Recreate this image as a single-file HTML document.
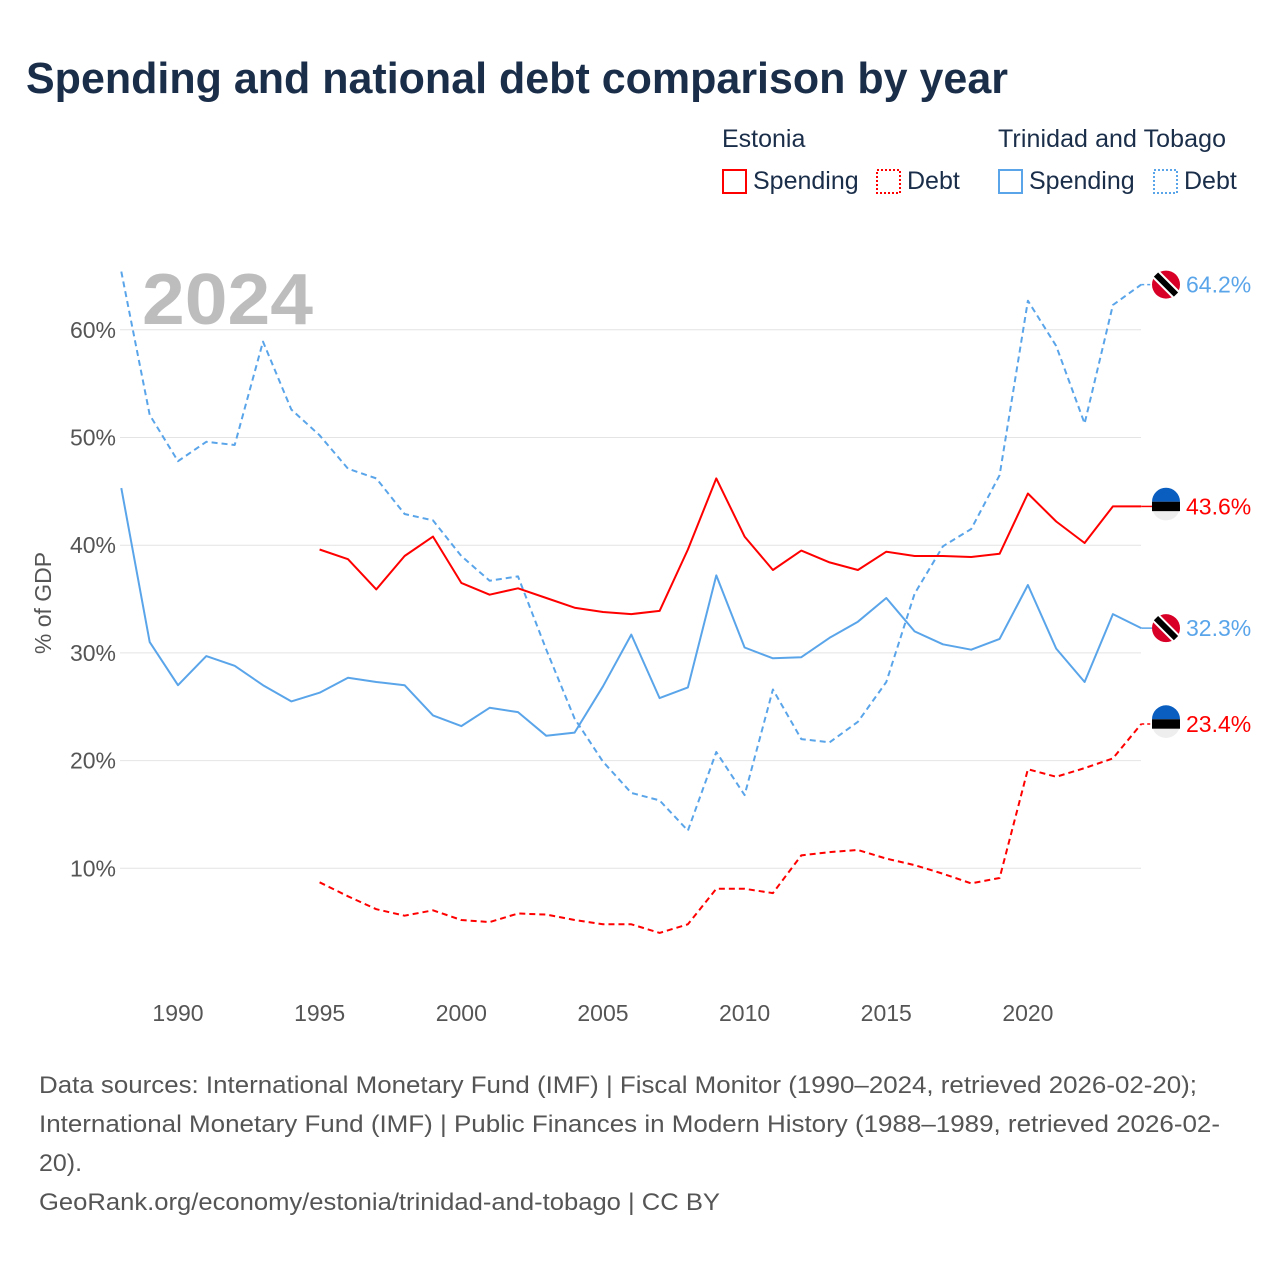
<!DOCTYPE html>
<html><head><meta charset="utf-8">
<style>
body{margin:0;background:#fff;font-family:"Liberation Sans",sans-serif;}
#wrap{position:relative;width:1280px;height:1280px;overflow:hidden;}
</style></head>
<body><div id="wrap">
<svg id="chart" width="1280" height="1280" xmlns="http://www.w3.org/2000/svg">
<text x="26" y="93" font-size="44" font-weight="bold" fill="#1a2e4a" textLength="982" lengthAdjust="spacingAndGlyphs">Spending and national debt comparison by year</text>
<g font-size="25" fill="#1a2e4a">
<text x="722" y="147">Estonia</text>
<text x="998" y="147" textLength="228">Trinidad and Tobago</text>
<rect x="723" y="170" width="23" height="23" fill="none" stroke="#f00" stroke-width="2"/>
<text x="753" y="189">Spending</text>
<rect x="877" y="170" width="23" height="23" fill="none" stroke="#f00" stroke-width="2" stroke-dasharray="2,2"/>
<text x="907" y="189">Debt</text>
<rect x="999" y="170" width="23" height="23" fill="none" stroke="#5aa5ea" stroke-width="2"/>
<text x="1029" y="189">Spending</text>
<rect x="1154" y="170" width="23" height="23" fill="none" stroke="#5aa5ea" stroke-width="2" stroke-dasharray="2,2"/>
<text x="1184" y="189">Debt</text>
</g>
<text x="142" y="324" font-size="72" font-weight="bold" fill="#bdbdbd" textLength="171" lengthAdjust="spacingAndGlyphs">2024</text>
<text transform="translate(51,603) rotate(-90)" text-anchor="middle" font-size="23" fill="#555">% of GDP</text>
<g id="grid"></g><g id="lines"></g><g id="marks"></g>
<g font-size="24" fill="#555">
<text x="39" y="1093" textLength="1158" lengthAdjust="spacingAndGlyphs">Data sources: International Monetary Fund (IMF) | Fiscal Monitor (1990–2024, retrieved 2026-02-20);</text>
<text x="39" y="1132" textLength="1181" lengthAdjust="spacingAndGlyphs">International Monetary Fund (IMF) | Public Finances in Modern History (1988–1989, retrieved 2026-02-</text>
<text x="39" y="1171" textLength="43" lengthAdjust="spacingAndGlyphs">20).</text>
<text x="39" y="1210" textLength="681" lengthAdjust="spacingAndGlyphs">GeoRank.org/economy/estonia/trinidad-and-tobago | CC BY</text>
</g>
</svg>
<script>
const yTicks=[10,20,30,40,50,60];
const xTicks=[1990,1995,2000,2005,2010,2015,2020];
const ttYears=[1988,1989,1990,1991,1992,1993,1994,1995,1996,1997,1998,1999,2000,2001,2002,2003,2004,2005,2006,2007,2008,2009,2010,2011,2012,2013,2014,2015,2016,2017,2018,2019,2020,2021,2022,2023,2024];
const ttDebt=[65.4,52.1,47.8,49.6,49.3,58.9,52.6,50.2,47.1,46.2,42.9,42.3,39,36.7,37.1,30.3,23.9,19.9,17,16.3,13.5,20.8,16.8,26.6,22,21.7,23.6,27.3,35.5,39.9,41.5,46.5,62.7,58.5,51.3,62.3,64.2];
const ttSpending=[45.3,31,27,29.7,28.8,27,25.5,26.3,27.7,27.3,27,24.2,23.2,24.9,24.5,22.3,22.6,26.9,31.7,25.8,26.8,37.2,30.5,29.5,29.6,31.4,32.9,35.1,32,30.8,30.3,31.3,36.3,30.4,27.3,33.6,32.3];
const eeYears=[1995,1996,1997,1998,1999,2000,2001,2002,2003,2004,2005,2006,2007,2008,2009,2010,2011,2012,2013,2014,2015,2016,2017,2018,2019,2020,2021,2022,2023,2024];
const eeSpending=[39.6,38.7,35.9,39,40.8,36.5,35.4,36,35.1,34.2,33.8,33.6,33.9,39.6,46.2,40.8,37.7,39.5,38.4,37.7,39.4,39,39,38.9,39.2,44.8,42.2,40.2,43.6,43.6];
const eeDebt=[8.7,7.4,6.2,5.6,6.1,5.2,5.0,5.8,5.7,5.2,4.8,4.8,4.0,4.8,8.1,8.1,7.7,11.2,11.5,11.7,10.9,10.3,9.5,8.6,9.1,19.2,18.5,19.3,20.2,23.4];

const NS="http://www.w3.org/2000/svg";
const X=y=>178+(y-1990)*28.33;
const Y=v=>976-v*10.77;
function mk(t,a,p){const e=document.createElementNS(NS,t);for(const k in a)e.setAttribute(k,a[k]);p.appendChild(e);return e;}
const grid=document.getElementById('grid');
yTicks.forEach(v=>{
 const l=mk('line',{x1:120,x2:1141,y1:Y(v),y2:Y(v),stroke:'#e4e4e4','stroke-width':1},grid);
 
 
 const t=mk('text',{x:116,y:Y(v)+8,'text-anchor':'end','font-size':23,fill:'#555'},grid);
 t.textContent=v+'%';
 
 
});
xTicks.forEach(v=>{
 const t=mk('text',{x:X(v),y:1021,'text-anchor':'middle','font-size':23,fill:'#555'},grid);
 t.textContent=v;
 
 
});
const lines=document.getElementById('lines');
function series(xs,vs,col,dash,name){
 const d=xs.map((x,i)=>(i?'L':'M')+X(x).toFixed(1)+','+Y(vs[i]).toFixed(1)).join('');
 const p=mk('path',{d:d,fill:'none',stroke:col,'stroke-width':2,'stroke-linejoin':'round'},lines);
 if(dash)p.setAttribute('stroke-dasharray',dash);
 
 
}
series(ttYears,ttDebt,'#5aa5ea','6,4','line-tt-debt');
series(ttYears,ttSpending,'#5aa5ea',null,'line-tt-spending');
series(eeYears,eeSpending,'#f00',null,'line-estonia-spending');
series(eeYears,eeDebt,'#f00','6,4','line-estonia-debt');
const marks=document.getElementById('marks');
function flag(v,type,col,name,dash){
 const y=Y(v),cx=1166;
 const c=mk('line',{x1:X(2024),x2:cx-14,y1:y,y2:y,stroke:col,'stroke-width':1.5},marks);
 if(dash)c.setAttribute('stroke-dasharray','3,3');
 
 
 const g=mk('g',{},marks);
 
 
 if(type==='ee'){
  mk('circle',{cx:cx,cy:y,r:14,fill:'#eee'},g);
  mk('path',{d:`M${cx-14},${y-4.7}A14,14 0 0 1 ${cx+14},${y-4.7}Z`,fill:'#0a5ec0'},g);
  mk('rect',{x:cx-14,y:y-4.7,width:28,height:9.4,fill:'#000'},g);
 }else{
  mk('circle',{cx:cx,cy:y,r:14,fill:'#d80027'},g);
  mk('line',{x1:cx-10,y1:y-10,x2:cx+10,y2:y+10,stroke:'#fff','stroke-width':10},g);
  mk('line',{x1:cx-10,y1:y-10,x2:cx+10,y2:y+10,stroke:'#000','stroke-width':6},g);
 }
 const t=mk('text',{x:1186,y:y+8,'font-size':23,fill:col},marks);
 t.textContent=v.toFixed(1)+'%';
 
 
}
flag(ttDebt[ttDebt.length-1],'tt','#5aa5ea','end-tt-debt',true);
flag(eeSpending[eeSpending.length-1],'ee','#f00','end-estonia-spending',false);
flag(ttSpending[ttSpending.length-1],'tt','#5aa5ea','end-tt-spending',false);
flag(eeDebt[eeDebt.length-1],'ee','#f00','end-estonia-debt',true);
</script>
</div></body></html>
